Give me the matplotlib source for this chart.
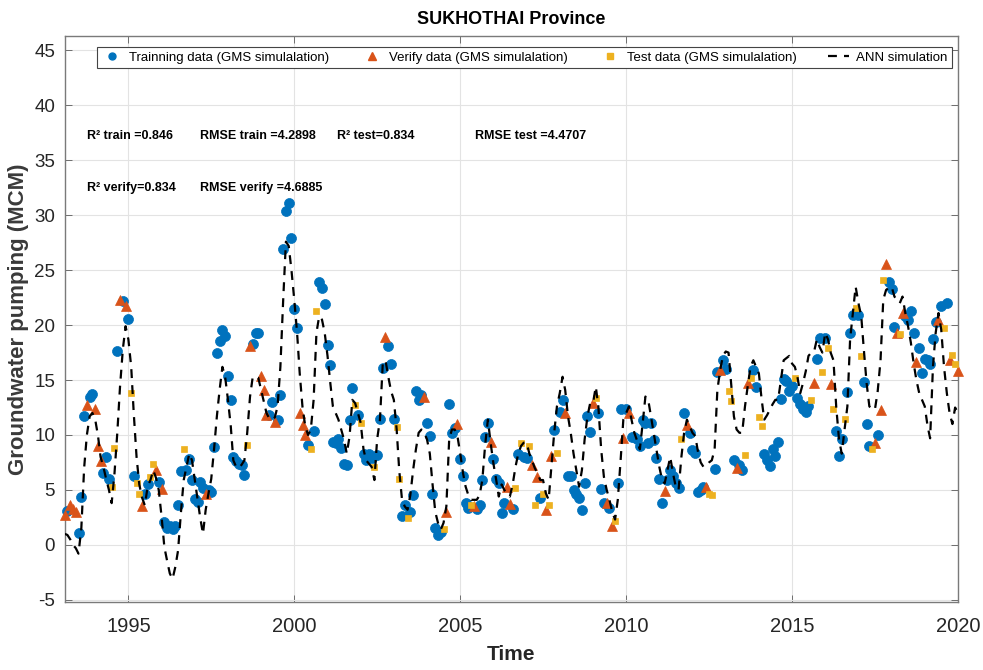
#!/usr/bin/env python3
"""
Groundwater pumping - SUKHOTHAI Province
GMS simulation (train / verify / test) vs ANN simulation, monthly 1993-2020
"""

import numpy as np
import pandas as pd
import matplotlib
matplotlib.use('Agg')
import matplotlib.pyplot as plt
import matplotlib.dates as mdates
from matplotlib.lines import Line2D

plt.rcParams['axes.unicode_minus'] = False

# monthly series, Feb 1993 .. Jan 2020
start_month = '1993-02-01'

# GMS simulated pumping (MCM), one row per year
gms_values = [
    2.7, 3.1, 3.6, 3.3, 3.0, 1.1, 4.4, 11.7, 12.7, 13.5, 13.7,            # 1993 (Feb-Dec)
    12.4, 9.0, 7.6, 6.5, 8.0, 6.0, 5.3, 8.8, 17.6, 22.3, 22.2, 21.7,      # 1994
    20.6, 13.8, 6.3, 5.6, 4.6, 3.5, 4.6, 5.5, 6.2, 7.4, 6.8, 5.7,         # 1995
    5.1, 2.1, 1.5, 1.7, 1.4, 1.7, 3.6, 6.7, 8.7, 6.8, 7.8, 5.9,           # 1996
    4.2, 3.9, 5.7, 5.2, 4.6, 5.0, 4.8, 8.9, 17.5, 18.6, 19.6, 19.0,       # 1997
    15.4, 13.2, 8.0, 7.6, 7.4, 7.3, 6.4, 9.1, 18.1, 18.3, 19.3, 19.3,     # 1998
    15.4, 14.1, 11.8, 11.8, 13.0, 11.2, 11.4, 13.6, 26.9, 30.4, 31.1, 27.9,  # 1999
    21.5, 19.7, 12.0, 10.9, 10.0, 9.1, 8.7, 10.4, 21.3, 23.9, 23.4, 21.9,  # 2000
    18.2, 16.4, 9.4, 9.3, 9.6, 8.8, 7.4, 7.3, 11.4, 14.3, 12.7, 11.8,     # 2001
    11.1, 8.3, 7.7, 8.3, 7.9, 7.1, 8.2, 11.5, 16.1, 18.9, 18.1, 16.5,     # 2002
    11.5, 10.7, 6.0, 2.6, 3.6, 2.4, 3.0, 4.5, 14.0, 13.2, 13.6, 13.5,     # 2003
    11.1, 9.9, 4.6, 1.5, 0.9, 1.2, 1.4, 3.0, 12.8, 10.2, 10.6, 11.0,      # 2004
    7.8, 6.3, 3.8, 3.4, 3.6, 3.5, 3.3, 3.6, 5.9, 9.8, 11.1, 9.4,          # 2005
    7.8, 6.0, 5.6, 2.9, 3.8, 5.3, 3.7, 3.3, 5.2, 8.3, 9.3, 8.0,           # 2006
    7.9, 9.0, 7.3, 3.6, 6.2, 4.3, 4.6, 3.2, 3.6, 8.1, 10.5, 8.4,          # 2007
    12.1, 13.2, 12.0, 6.3, 6.3, 5.0, 4.6, 4.3, 3.2, 5.6, 11.7, 10.3,      # 2008
    12.9, 13.4, 12.0, 5.1, 3.8, 3.8, 3.4, 1.7, 2.2, 5.6, 12.4, 9.7,       # 2009
    12.4, 12.0, 9.8, 9.8, 9.6, 9.0, 11.4, 11.1, 9.3, 11.1, 9.5, 7.9,      # 2010
    6.0, 3.8, 4.9, 5.9, 6.8, 6.3, 5.6, 5.2, 9.6, 12.0, 10.9, 10.2,        # 2011
    8.6, 8.4, 4.8, 5.0, 5.3, 5.3, 4.6, 4.5, 6.9, 15.7, 15.9, 16.8,        # 2012
    16.0, 14.0, 13.1, 7.7, 7.0, 7.3, 6.8, 8.2, 14.7, 15.2, 15.9, 14.4,    # 2013
    11.6, 10.8, 8.3, 7.7, 7.2, 8.7, 8.1, 9.4, 13.3, 15.1, 14.9, 14.0,     # 2014
    14.5, 15.2, 13.4, 12.8, 12.4, 12.1, 12.6, 13.2, 14.7, 16.9, 18.8, 15.7,  # 2015
    18.8, 17.9, 14.6, 12.4, 10.4, 8.1, 9.6, 11.5, 13.9, 19.3, 20.9, 21.6,  # 2016
    20.9, 17.2, 14.8, 11.0, 9.0, 8.7, 9.3, 10.0, 12.3, 24.1, 25.6, 23.9,  # 2017
    23.3, 19.8, 19.3, 19.2, 21.1, 20.8, 20.5, 21.3, 19.3, 16.6, 17.9, 15.6,  # 2018
    16.9, 16.8, 16.5, 18.7, 20.3, 20.5, 21.7, 19.7, 22.0, 16.8, 17.3, 16.5,  # 2019
    15.8,                                                                  # 2020 (Jan)
]

# data split per month: T = training, V = verify, S = test
gms_split = (
    "VTVVVTTTVTT"      # 1993
    "VVVTTTSSTVTV"     # 1994
    "TSTSSVTTSSVT"     # 1995
    "VTTTTTTTSTTT"     # 1996
    "TTTTVTTTTTTT"     # 1997
    "TTTTTTTSVTTT"     # 1998
    "VVVTTVTTTTTT"     # 1999
    "TTVVVTSTSTTT"     # 2000
    "TTTTTTTTTTST"     # 2001
    "STTTTSTTTVTT"     # 2002
    "TSSTTSTTTTTV"     # 2003
    "TTTTTTSVTTTV"     # 2004
    "TTTTSVTTTTTV"     # 2005
    "TTTTTVVTSTST"     # 2006
    "TSVSVTSVSVTS"     # 2007
    "TTVTTTTTTTTT"     # 2008
    "VSTTTVTVSTTV"     # 2009
    "TVTTTTTTTTTT"     # 2010
    "TTVTTTTTSTVT"     # 2011
    "TTTTTVSSTTVT"     # 2012
    "TSSTVTTSVSTT"     # 2013
    "SSTTTTTTTTTT"     # 2014
    "TSTTTTTSVTTS"     # 2015
    "TSVSTTTSTTTS"     # 2016
    "TSTTTSVTVSVT"     # 2017
    "TTVSVTTTTVTT"     # 2018
    "TTTTTVTSTVSS"     # 2019
    "V"                # 2020
)

# ANN simulated pumping (MCM)
ann_values = [
    1.0, 0.9, 0.5, 0.0, -0.3, -0.8, 1.5, 7.0, 10.0, 11.7, 12.0,           # 1993 (Feb-Dec)
    11.4, 9.9, 8.0, 7.1, 6.0, 5.0, 3.8, 6.5, 10.2, 14.4, 17.8, 19.9,      # 1994
    18.7, 16.2, 12.0, 8.0, 5.5, 4.3, 3.6, 5.3, 5.9, 6.8, 6.1, 5.0,        # 1995
    2.6, -0.2, -1.4, -2.6, -3.1, -2.0, -0.5, 2.9, 5.9, 7.1, 8.3, 7.7,     # 1996
    5.9, 4.1, 2.5, 1.0, 3.2, 4.7, 6.0, 8.7, 11.7, 14.1, 16.2, 15.3,       # 1997
    13.2, 10.8, 7.7, 7.1, 7.0, 7.3, 7.7, 10.2, 13.5, 15.3, 15.3, 15.2,    # 1998
    14.1, 13.0, 12.0, 11.5, 11.4, 11.6, 12.6, 16.2, 22.3, 27.6, 27.2, 25.0,  # 1999
    22.3, 19.3, 15.6, 12.5, 10.8, 10.0, 10.5, 13.2, 19.3, 20.8, 20.5, 19.3,  # 2000
    17.2, 14.7, 12.6, 12.0, 11.4, 10.5, 9.6, 8.3, 9.9, 13.2, 12.9, 12.0,  # 2001
    11.1, 8.7, 7.7, 7.4, 7.1, 5.9, 9.6, 11.4, 16.5, 16.8, 15.3, 14.0,     # 2002
    13.2, 10.5, 6.8, 4.1, 3.5, 3.2, 4.5, 6.8, 8.7, 10.2, 10.5, 10.2,      # 2003
    9.6, 8.3, 5.6, 3.0, 2.0, 1.4, 2.0, 3.5, 9.6, 10.5, 10.5, 9.9,         # 2004
    8.3, 6.5, 5.3, 4.5, 4.1, 4.1, 4.1, 4.5, 5.9, 9.0, 11.4, 9.3,          # 2005
    7.4, 5.9, 4.4, 5.5, 5.0, 4.6, 4.4, 5.5, 7.1, 8.3, 9.0, 9.3,           # 2006
    9.3, 8.3, 7.7, 7.0, 6.5, 5.9, 5.9, 4.7, 4.1, 7.1, 10.2, 12.6,         # 2007
    13.8, 15.3, 14.1, 11.7, 10.2, 8.3, 6.8, 5.3, 6.8, 9.6, 11.7, 12.9,    # 2008
    12.9, 14.4, 12.6, 8.7, 6.2, 5.0, 4.1, 3.0, 2.3, 4.1, 7.7, 11.4,       # 2009
    12.0, 12.6, 11.4, 10.2, 9.5, 8.7, 11.0, 13.5, 13.2, 11.7, 10.2, 8.7,  # 2010
    7.1, 5.9, 5.6, 6.8, 8.0, 6.5, 5.3, 5.0, 8.0, 10.2, 11.4, 10.8,        # 2011
    10.2, 9.9, 8.5, 7.5, 7.1, 7.2, 7.5, 7.7, 8.7, 14.1, 15.9, 17.2,       # 2012
    17.6, 17.5, 14.7, 11.7, 10.5, 10.2, 10.2, 12.6, 14.5, 16.2, 16.8, 16.2,  # 2013
    15.6, 13.2, 11.4, 11.8, 12.3, 12.8, 13.2, 13.2, 15.0, 16.8, 17.0, 17.2,  # 2014
    16.5, 16.2, 15.3, 13.8, 14.7, 15.8, 17.2, 17.5, 17.6, 18.7, 18.0, 17.5,  # 2015
    19.3, 18.7, 17.5, 16.8, 12.6, 9.6, 8.3, 10.5, 12.6, 18.7, 21.1, 23.5,  # 2016
    22.0, 20.8, 17.8, 14.7, 12.6, 12.4, 12.3, 14.0, 16.8, 22.3, 23.2, 23.4,  # 2017
    23.5, 22.6, 22.3, 22.0, 22.6, 21.1, 19.9, 18.4, 16.5, 15.0, 13.8, 13.2,  # 2018
    12.6, 10.8, 9.7, 16.2, 19.3, 21.1, 19.6, 16.2, 13.8, 12.0, 11.0, 12.5,  # 2019
    12.0,                                                                  # 2020 (Jan)
]

legend_labels = ['Trainning data (GMS simulalation)',
                 'Verify data (GMS simulalation)',
                 'Test data (GMS simulalation)',
                 'ANN simulation']

stats_text = [
    ('1993-10-01', 37.2, 'R\u00b2 train =0.846'),
    ('1997-03-01', 37.2, 'RMSE train =4.2898'),
    ('2001-04-10', 37.2, 'R\u00b2 test=0.834'),
    ('2005-06-10', 37.2, 'RMSE test =4.4707'),
    ('1993-10-01', 32.5, 'R\u00b2 verify=0.834'),
    ('1997-03-01', 32.5, 'RMSE verify =4.6885'),
]

assert len(gms_values) == len(gms_split) == len(ann_values)

dates = pd.date_range(start_month, periods=len(gms_values), freq='MS')
df = pd.DataFrame({'date': dates, 'gms': gms_values,
                   'split': list(gms_split), 'ann': ann_values})

ARIAL = ['Liberation Sans', 'DejaVu Sans']

fig = plt.figure(figsize=(9.83, 6.70), dpi=100)
ax = fig.add_axes([0.066, 0.1015, 0.9085, 0.8445])

styles = {
    'T': dict(marker='o', color='#0072BD', ms=7.2),
    'V': dict(marker='^', color='#D95319', ms=7.5),
    'S': dict(marker='s', color='#EDB120', ms=4.8),
}
for key in ['T', 'V', 'S']:
    sub = df[df['split'] == key]
    st = styles[key]
    ax.plot(sub['date'], sub['gms'], linestyle='none', marker=st['marker'],
            ms=st['ms'], mfc=st['color'], mec=st['color'], mew=0.5,
            clip_on=False, zorder=3)

ax.plot(df['date'], df['ann'], color='black', lw=1.6, dashes=(4.0, 3.2),
        zorder=4)

ax.set_xlim(pd.Timestamp('1993-02-01'), pd.Timestamp('2020-01-01'))
ax.set_ylim(-5.2, 46.3)
ax.set_yticks(np.arange(-5, 46, 5))
ax.xaxis.set_major_locator(mdates.YearLocator(5))
ax.xaxis.set_major_formatter(mdates.DateFormatter('%Y'))

ax.grid(True, color='#e3e3e3', lw=0.8)
ax.set_axisbelow(True)
for sp in ax.spines.values():
    sp.set_color('#7a7a7a')
    sp.set_linewidth(1.0)
ax.tick_params(direction='in', length=5, width=0.7, color='#6e6e6e',
               top=True, right=True, labelcolor='#262626')
ax.tick_params(axis='y', pad=7)
ax.tick_params(axis='x', pad=11)
for lab in ax.get_yticklabels():
    lab.set_family(ARIAL)
    lab.set_fontsize(13.5)
for lab in ax.get_xticklabels():
    lab.set_family(ARIAL)
    lab.set_fontsize(14.5)

ax.set_title('SUKHOTHAI Province', family=ARIAL, fontsize=13,
             fontweight='bold', pad=9)
ax.set_ylabel('Groundwater pumping (MCM)', family=ARIAL, fontsize=16,
              fontweight='bold', color='#3a3a3a', labelpad=4)
ax.set_xlabel('Time', family=ARIAL, fontsize=15, fontweight='bold',
              color='#262626', labelpad=6)

for xd, yv, txt in stats_text:
    ax.text(pd.Timestamp(xd), yv, txt, family=ARIAL, fontsize=9,
            fontweight='bold', ha='left', va='center', color='black')

handles = [
    Line2D([], [], ls='none', marker='o', ms=5, mfc='#0072BD', mec='#0072BD'),
    Line2D([], [], ls='none', marker='^', ms=5.5, mfc='#D95319', mec='#D95319'),
    Line2D([], [], ls='none', marker='s', ms=4, mfc='#EDB120', mec='#EDB120'),
    Line2D([], [], color='black', lw=1.6, dashes=(4.0, 3.2)),
]
leg = ax.legend(handles, legend_labels, ncol=4, loc='upper left',
                bbox_to_anchor=(0.036, 0.981, 0.957, 0), mode='expand',
                prop={'family': ARIAL, 'size': 9.5},
                frameon=True, fancybox=False, framealpha=1, edgecolor='#444444',
                borderpad=0.35, handlelength=1.6, handletextpad=0.5,
                columnspacing=1.0, borderaxespad=0)
leg.get_frame().set_linewidth(0.8)
leg.set_zorder(6)

fig.savefig('out.png', dpi=100)
